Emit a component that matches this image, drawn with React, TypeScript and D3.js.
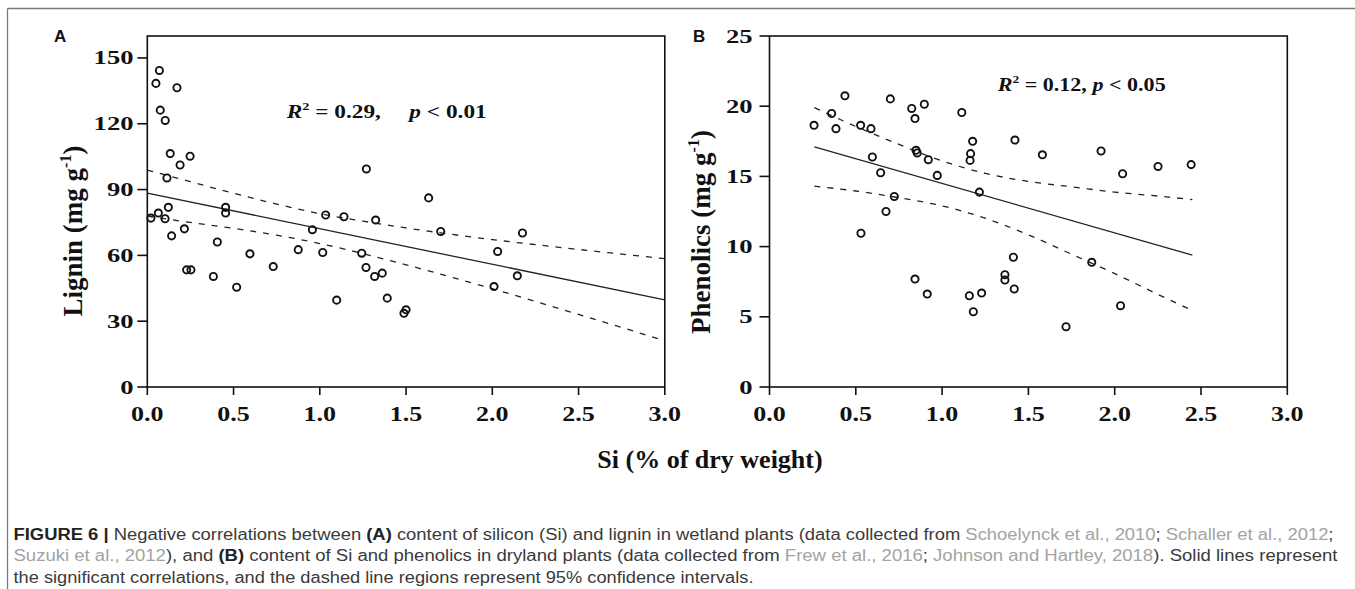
import React from 'react';
import * as d3 from 'd3';

// Panel A: Si vs lignin (wetland plants)
const siA = [0.070, 0.050, 0.172, 0.075, 0.104, 0.133, 0.248, 0.190, 0.114, 0.122, 0.454, 0.454, 0.064, 0.021, 0.103,
  0.141, 0.215, 0.406, 0.595, 0.228, 0.253, 0.383, 0.518, 0.730, 0.875, 1.270, 1.631, 1.034, 1.140, 1.324, 0.957, 1.701,
  2.175, 1.017, 1.243, 2.031, 1.268, 1.362, 1.318, 2.145, 2.010, 1.098, 1.391, 1.500, 1.488];
const ligninA = [144.3, 138.4, 136.4, 126.2, 121.5, 106.4, 105.2, 101.2, 95.3, 81.9, 81.9, 79.3, 79.3, 77.0, 76.7,
  68.9, 72.1, 66.1, 60.7, 53.4, 53.4, 50.4, 45.5, 54.9, 62.6, 99.4, 86.2, 78.4, 77.6, 76.1, 71.7, 70.9,
  70.2, 61.3, 61.0, 61.8, 54.5, 51.9, 50.4, 50.7, 45.8, 39.6, 40.5, 35.2, 33.6];

const fitXA = [0, 3];
const fitYA = [88.4, 39.7];
const ciXA = [0, 0.25, 0.5, 0.75, 1.0, 1.25, 1.5, 2.0, 2.5, 3.0];
const ciUpperA = [98.9, 93.6, 88.3, 83.4, 79.0, 75.6, 72.5, 67.2, 62.7, 58.5];
const ciLowerA = [77.9, 75.0, 72.3, 69.2, 65.4, 60.8, 55.7, 44.8, 33.1, 21.1];
const yTicksA = [0, 30, 60, 90, 120, 150];

// Panel B: Si vs phenolics (dryland plants)
const siB = [0.258, 0.360, 0.385, 0.437, 0.528, 0.588, 0.700, 0.824, 0.843, 0.897, 1.114, 0.596, 0.644, 0.723, 0.675,
  0.530, 0.849, 0.856, 0.920, 0.972, 0.843, 0.914, 1.177, 1.165, 1.162, 1.422, 1.581, 1.921, 2.046, 1.216, 1.413,
  1.867, 1.364, 1.364, 1.418, 1.229, 1.158, 1.181, 2.034, 1.718, 2.251, 2.443];
const phenolicsB = [18.64, 19.48, 18.40, 20.74, 18.64, 18.40, 20.52, 19.84, 19.12, 20.14, 19.55, 16.38, 15.26, 13.57, 12.50,
  10.95, 16.86, 16.67, 16.19, 15.07, 7.69, 6.62, 17.50, 16.62, 16.14, 17.59, 16.54, 16.81, 15.19, 13.88, 9.24,
  8.88, 8.00, 7.62, 6.98, 6.69, 6.50, 5.36, 5.79, 4.29, 15.71, 15.84];

const fitXB = [0.26, 2.45];
const fitYB = [17.1, 9.4];
const ciXB = [0.26, 0.5, 0.75, 1.0, 1.25, 1.5, 1.75, 2.0, 2.25, 2.45];
const ciUpperB = [19.9, 18.56, 17.28, 16.1, 15.22, 14.64, 14.26, 13.88, 13.6, 13.35];
const ciLowerB = [14.3, 13.96, 13.48, 12.9, 12.02, 10.84, 9.46, 8.08, 6.6, 5.45];
const yTicksB = [0, 5, 10, 15, 20, 25];

const xTicks = [0, 0.5, 1.0, 1.5, 2.0, 2.5, 3.0];

const W = 1355;
const H = 589;
const TOP = 36;
const BOTTOM = 387;
const SERIF = '"Liberation Serif", "Times New Roman", serif';
const SANS = '"Liberation Sans", Arial, Helvetica, sans-serif';
const REF = '#a3a3a3';
const INK = '#3a3a3a';

type PanelProps = {
  x0: number;
  x1: number;
  yMax: number;
  yTicks: number[];
  xs: number[];
  ys: number[];
  fitX: number[];
  fitY: number[];
  ciX: number[];
  ciUp: number[];
  ciLo: number[];
  labelEnd: number;
};

function Panel({ x0, x1, yMax, yTicks, xs, ys, fitX, fitY, ciX, ciUp, ciLo, labelEnd }: PanelProps) {
  const x = d3.scaleLinear().domain([0, 3]).range([x0, x1]);
  const y = d3.scaleLinear().domain([0, yMax]).range([BOTTOM, TOP]);

  const line = d3.line<[number, number]>()
    .x(d => x(d[0]))
    .y(d => y(d[1]));
  const curve = d3.line<[number, number]>()
    .x(d => x(d[0]))
    .y(d => y(d[1]))
    .curve(d3.curveMonotoneX);

  const fit = fitX.map((v, i) => [v, fitY[i]] as [number, number]);
  const up = ciX.map((v, i) => [v, ciUp[i]] as [number, number]);
  const lo = ciX.map((v, i) => [v, ciLo[i]] as [number, number]);

  return (
    <g>
      {/* confidence bands */}
      <path d={curve(up) || ''} fill="none" stroke="#222" strokeWidth={1.3} strokeDasharray="6,7" />
      <path d={curve(lo) || ''} fill="none" stroke="#222" strokeWidth={1.3} strokeDasharray="6,7" />
      {/* regression line */}
      <path d={line(fit) || ''} fill="none" stroke="#222" strokeWidth={1.3} />

      {/* points */}
      {xs.map((v, i) => (
        <circle key={i} cx={x(v)} cy={y(ys[i])} r={3.6} fill="none" stroke="#111" strokeWidth={1.9} />
      ))}

      {/* frame */}
      <rect x={x0} y={TOP} width={x1 - x0} height={BOTTOM - TOP} fill="none" stroke="#111" strokeWidth={1.6} />

      {/* y axis */}
      {yTicks.map(t => (
        <g key={t}>
          <line x1={x0 - 10} x2={x0} y1={y(t)} y2={y(t)} stroke="#111" strokeWidth={1.6} />
          <text
            transform={`translate(${labelEnd},${y(t) + 6.5}) scale(1.4,1)`}
            textAnchor="end"
            fontFamily={SERIF}
            fontWeight="bold"
            fontSize={19}
            fill="#111"
          >
            {t}
          </text>
        </g>
      ))}

      {/* x axis */}
      {xTicks.map(t => (
        <g key={t}>
          <line x1={x(t)} x2={x(t)} y1={BOTTOM} y2={BOTTOM + 8} stroke="#111" strokeWidth={1.6} />
          <text
            transform={`translate(${x(t)},420.5) scale(1.3,1)`}
            textAnchor="middle"
            fontFamily={SERIF}
            fontWeight="bold"
            fontSize={20}
            fill="#111"
          >
            {d3.format('.1f')(t)}
          </text>
        </g>
      ))}
    </g>
  );
}

export default function App() {
  return (
    <div style={{ position: 'absolute', left: 0, top: 0, width: W, height: H, background: '#fff' }}>
      <svg width={W} height={H} style={{ display: 'block' }}>
        <rect width={W} height={H} fill="#fff" />

        {/* outer figure frame */}
        <line x1={7.5} x2={W} y1={8.5} y2={8.5} stroke="#7a7a7a" strokeWidth={1.3} />
        <line x1={7.5} x2={7.5} y1={8.5} y2={H} stroke="#7a7a7a" strokeWidth={1.3} />

        <Panel
          x0={147.3} x1={664.8} yMax={160} yTicks={yTicksA}
          xs={siA} ys={ligninA}
          fitX={fitXA} fitY={fitYA}
          ciX={ciXA} ciUp={ciUpperA} ciLo={ciLowerA}
          labelEnd={133.5}
        />
        <Panel
          x0={769.5} x1={1287.3} yMax={25} yTicks={yTicksB}
          xs={siB} ys={phenolicsB}
          fitX={fitXB} fitY={fitYB}
          ciX={ciXB} ciUp={ciUpperB} ciLo={ciLowerB}
          labelEnd={752.5}
        />

        {/* panel letters */}
        <text x={54} y={42} fontFamily={SANS} fontWeight="bold" fontSize={17} fill="#111">A</text>
        <text x={693} y={42} fontFamily={SANS} fontWeight="bold" fontSize={17} fill="#111">B</text>

        {/* y titles */}
        <text
          transform="translate(82,231) rotate(-90)"
          textAnchor="middle"
          fontFamily={SERIF}
          fontWeight="bold"
          fontSize={27}
          fill="#111"
        >
          Lignin (mg g<tspan dy={-11} fontSize={16}>-1</tspan><tspan dy={11}>)</tspan>
        </text>
        <text
          transform="translate(710,232) rotate(-90)"
          textAnchor="middle"
          fontFamily={SERIF}
          fontWeight="bold"
          fontSize={27}
          fill="#111"
        >
          Phenolics (mg g<tspan dy={-11} fontSize={16}>-1</tspan><tspan dy={11}>)</tspan>
        </text>

        {/* statistics */}
        <text x={286.7} y={118} fontFamily={SERIF} fontWeight="bold" fontSize={18} fill="#111"
          textLength={200} lengthAdjust="spacingAndGlyphs">
          <tspan fontStyle="italic">R</tspan>
          <tspan dy={-8} fontSize={11}>2</tspan>
          <tspan dy={8}> = 0.29,</tspan>
          <tspan dx={22} fontStyle="italic">p</tspan>
          <tspan> &lt; 0.01</tspan>
        </text>
        <text x={997.7} y={91} fontFamily={SERIF} fontWeight="bold" fontSize={18} fill="#111"
          textLength={168} lengthAdjust="spacingAndGlyphs">
          <tspan fontStyle="italic">R</tspan>
          <tspan dy={-8} fontSize={11}>2</tspan>
          <tspan dy={8}> = 0.12, </tspan>
          <tspan fontStyle="italic">p</tspan>
          <tspan> &lt; 0.05</tspan>
        </text>

        {/* shared x title */}
        <text x={710} y={468} textAnchor="middle" fontFamily={SERIF} fontWeight="bold" fontSize={26} fill="#111">
          Si (% of dry weight)
        </text>

        {/* caption */}
        <g fontFamily={SANS} fontSize={16} fill={INK}>
          <text x={13.5} y={539.5} textLength={1320} lengthAdjust="spacingAndGlyphs">
            <tspan fontWeight="bold" fill="#222">FIGURE 6 |</tspan>
            <tspan> Negative correlations between </tspan>
            <tspan fontWeight="bold" fill="#222">(A)</tspan>
            <tspan> content of silicon (Si) and lignin in wetland plants (data collected from </tspan>
            <tspan fill={REF}>Schoelynck et al., 2010</tspan>
            <tspan>; </tspan>
            <tspan fill={REF}>Schaller et al., 2012</tspan>
            <tspan>;</tspan>
          </text>
          <text x={13.5} y={561} textLength={1324} lengthAdjust="spacingAndGlyphs">
            <tspan fill={REF}>Suzuki et al., 2012</tspan>
            <tspan>), and </tspan>
            <tspan fontWeight="bold" fill="#222">(B)</tspan>
            <tspan> content of Si and phenolics in dryland plants (data collected from </tspan>
            <tspan fill={REF}>Frew et al., 2016</tspan>
            <tspan>; </tspan>
            <tspan fill={REF}>Johnson and Hartley, 2018</tspan>
            <tspan>). Solid lines represent</tspan>
          </text>
          <text x={13.5} y={582.5} textLength={740} lengthAdjust="spacingAndGlyphs">
            the significant correlations, and the dashed line regions represent 95% confidence intervals.
          </text>
        </g>
      </svg>
    </div>
  );
}
